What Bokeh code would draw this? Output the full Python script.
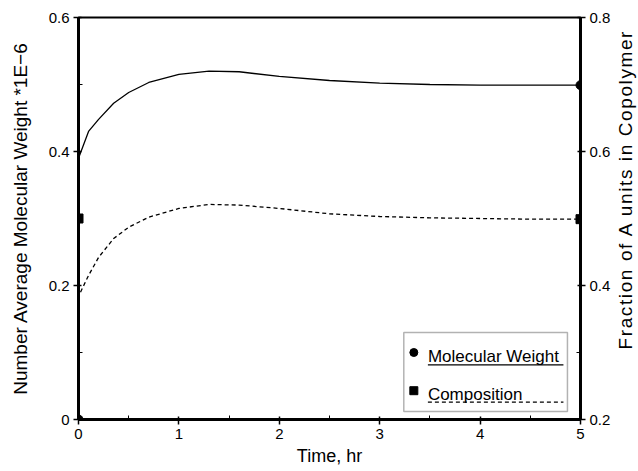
from bokeh.plotting import figure
from bokeh.layouts import row
from bokeh.models import Range1d, LinearAxis, BoxAnnotation, Label, FixedTicker, Div
from bokeh.embed import file_html
from bokeh.resources import INLINE

# ---- data ----
mw_time = [0, 0, 0.1, 0.2, 0.35, 0.5, 0.7, 1.0, 1.3, 1.6, 2.0, 2.5, 3.0, 3.5, 4.0, 4.5, 5.0]
mw_vals = [0.0, 0.39, 0.43, 0.448, 0.472, 0.488, 0.503, 0.515, 0.520, 0.519, 0.512, 0.506, 0.502, 0.500, 0.499, 0.499, 0.499]

comp_time = [0.02, 0.1, 0.2, 0.35, 0.5, 0.7, 1.0, 1.3, 1.6, 2.0, 2.5, 3.0, 3.5, 4.0, 4.5, 5.0]
comp_vals = [0.39, 0.415, 0.442, 0.47, 0.487, 0.502, 0.515, 0.521, 0.520, 0.515, 0.507, 0.503, 0.501, 0.500, 0.499, 0.499]

marker_time = [0, 5]
mw_markers = [0.0, 0.499]
comp_markers = [0.5, 0.499]

x_ticks = [0, 1, 2, 3, 4, 5]
left_ticks = [0.0, 0.2, 0.4, 0.6]
right_ticks = [0.2, 0.4, 0.6, 0.8]

left_title = "Number Average Molecular Weight *1E\u22126"
right_title = "Fraction of A units in Copolymer"
x_title = "Time, hr"

FONT = "Liberation Sans"

p = figure(width=613, height=468, output_backend="svg", toolbar_location=None,
           x_range=Range1d(0, 5), y_range=Range1d(0, 0.6),
           min_border_left=78, min_border_right=32, min_border_top=17, min_border_bottom=49)
p.extra_y_ranges = {"comp": Range1d(0.2, 0.8)}
p.grid.visible = False
p.outline_line_color = "black"
p.outline_line_width = 2
p.background_fill_color = "white"
p.border_fill_color = "white"

def style_axis(ax):
    ax.axis_line_width = 3
    ax.axis_line_color = "black"
    ax.major_tick_out = 5
    ax.major_tick_in = 3
    ax.minor_tick_out = 0
    ax.minor_tick_in = 4
    ax.major_tick_line_width = 1.5
    ax.minor_tick_line_width = 1
    ax.major_tick_line_color = "black"
    ax.minor_tick_line_color = "black"
    ax.major_label_text_font = FONT
    ax.major_label_text_font_size = "15px"
    ax.major_label_text_color = "black"
    ax.axis_label_text_font = FONT
    ax.axis_label_text_font_size = "18px"
    ax.axis_label_text_font_style = "normal"
    ax.axis_label_text_color = "black"

xa = p.xaxis[0]
style_axis(xa)
xa.ticker = FixedTicker(ticks=x_ticks, minor_ticks=[0.5, 1.5, 2.5, 3.5, 4.5])
xa.axis_label = x_title
xa.major_label_standoff = 4
xa.axis_label_standoff = 4

ya = p.yaxis[0]
style_axis(ya)
ya.ticker = FixedTicker(ticks=left_ticks, minor_ticks=[0.1, 0.3, 0.5])
ya.major_label_standoff = 4
ya.axis_label = left_title
ya.axis_label_text_font_size = "19px"
ya.axis_label_standoff = 15

ra = LinearAxis(y_range_name="comp")
style_axis(ra)
ra.ticker = FixedTicker(ticks=right_ticks, minor_ticks=[0.3, 0.5, 0.7])
ra.major_label_standoff = 4
p.add_layout(ra, "right")

# curves
p.line(mw_time, mw_vals, line_color="black", line_width=1.3)
p.line(comp_time, comp_vals, line_color="black", line_width=1.3, line_dash="4 3", y_range_name="comp")
p.scatter(marker_time, mw_markers, marker="circle", size=9, color="black")
p.scatter(marker_time, comp_markers, marker="square", size=9, color="black", y_range_name="comp")

# legend (drawn manually)
p.add_layout(BoxAnnotation(left=3.24, right=4.87, bottom=0.012, top=0.130, level="underlay",
                           fill_color="white", fill_alpha=1, line_color="black", line_width=1.5))
p.scatter([3.34], [0.100], marker="circle", size=8, color="black")
p.scatter([3.34], [0.043], marker="square", size=8, color="black")
p.add_layout(Label(x=3.48, y=0.094, text="Molecular Weight", text_font=FONT,
                   text_font_size="17px", text_baseline="alphabetic", text_color="black"))
p.add_layout(Label(x=3.48, y=0.037, text="Composition", text_font=FONT,
                   text_font_size="17px", text_baseline="alphabetic", text_color="black"))
p.segment(x0=[3.48], y0=[0.0815], x1=[4.83], y1=[0.0815], line_color="black", line_width=1.2)
p.segment(x0=[3.48], y0=[0.026], x1=[4.83], y1=[0.026], line_color="black", line_width=1.2, line_dash="4 3")

# right-hand axis title (reads bottom to top)
right_div = Div(
    text=('<div style="height:380px;width:25px;display:flex;align-items:center;justify-content:center;">'
          '<span style="writing-mode:vertical-rl;transform:rotate(180deg);white-space:nowrap;'
          'font-family:\'Liberation Sans\';font-size:19px;letter-spacing:1.6px;color:black;">'
          + right_title + '</span></div>'),
    width=25, height=468, margin=0)

layout = row(p, right_div, spacing=0)
open("out.html", "w").write(file_html(layout, INLINE))
